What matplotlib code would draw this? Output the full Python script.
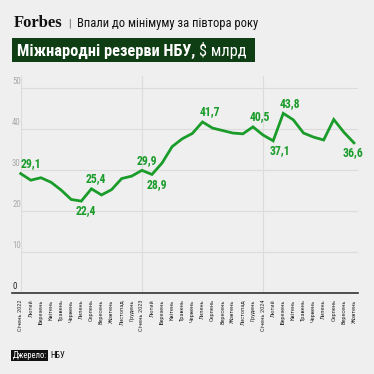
import matplotlib
matplotlib.use("Agg")
import matplotlib.pyplot as plt
from matplotlib import font_manager
from matplotlib.patches import Rectangle

names = {f.name for f in font_manager.fontManager.ttflist}
NARROW = next((n for n in ["Roboto Condensed", "Fira Sans Condensed", "Encode Sans Condensed"] if n in names), "DejaVu Sans")
SERIF = "Liberation Serif"

months = ["Січень 2022", "Лютий", "Березень", "Квітень", "Травень", "Червень", "Липень",
          "Серпень", "Вересень", "Жовтень", "Листопад", "Грудень",
          "Січень 2023", "Лютий", "Березень", "Квітень", "Травень", "Червень", "Липень",
          "Серпень", "Вересень", "Жовтень", "Листопад", "Грудень",
          "Січень 2024", "Лютий", "Березень", "Квітень", "Травень", "Червень", "Липень",
          "Серпень", "Вересень", "Жовтень"]
reserves = [29.1, 27.5, 28.1, 27.0, 25.1, 22.8, 22.4, 25.4, 23.9, 25.2, 27.9, 28.5,
            29.9, 28.9, 31.7, 35.7, 37.6, 38.9, 41.7, 40.2, 39.6, 39.0, 38.8, 40.5,
            38.5, 37.1, 43.8, 42.2, 39.0, 38.0, 37.3, 42.3, 39.2, 36.6]
yticks = [0, 10, 20, 30, 40, 50]
year_starts = [0, 12, 24]
# labelled points and where their labels sit
label_idx = [0, 6, 7, 12, 13, 18, 23, 25, 26, 33]
label_pos = ["above", "below", "above", "above", "below", "above", "above", "below", "above", "below"]
label_dx = [7.5, 3.5, 3.5, 3.5, 3.5, 5, 5, 5, 5, -1]

BG = "#efefef"
GREEN = "#1a9c2a"

fig = plt.figure(figsize=(3.74, 3.74), dpi=100, facecolor=BG)
ax = fig.add_axes([20.7 / 374, 1 - 293 / 374, (358 - 20.7) / 374, (293 - 76) / 374])
ax.set_facecolor(BG)

x = list(range(len(reserves)))
ax.plot(x, reserves, color=GREEN, lw=2.0, solid_joinstyle="miter", zorder=3, clip_on=False)

ax.set_xlim(0, 33.4)
ax.set_ylim(0, 52.9)

for v in yticks[1:]:
    ax.axhline(v, color="#dcdcdc", lw=0.8, zorder=1)
for xs in year_starts:
    ax.axvline(xs, color="#dcdcdc", lw=0.8, zorder=1)
ax.plot([-0.85, 33.4], [0, 0], color="#333333", lw=1.2, clip_on=False, zorder=2)

for s in ax.spines.values():
    s.set_visible(False)
ax.set_yticks([])
ax.set_xticks(x)
ax.set_xticklabels(months, rotation=90, fontsize=4.6, family=NARROW, color="#333333", va="top")
ax.tick_params(axis="x", length=0, pad=4.5)

for v in yticks:
    ax.text(-0.85, v + 0.4, str(v), fontsize=6.3, family=NARROW,
            color="#222222" if v == 0 else "#aaaaaa", ha="left", va="bottom", zorder=2)

for i, pos, dx in zip(label_idx, label_pos, label_dx):
    val = reserves[i]
    txt = f"{val:.1f}".replace(".", ",")
    dy = 2.5 if pos == "above" else -2.5
    ax.annotate(txt, (i, val), xytext=(dx, dy), textcoords="offset points",
                ha="center", va="bottom" if pos == "above" else "top",
                fontsize=8.5, fontweight="bold", family=NARROW, color=GREEN, zorder=4)

# header
fig.text(14 / 374, 1 - 27 / 374, "Forbes", family=SERIF, fontweight="bold", fontsize=12,
         color="#111111", ha="left", va="baseline")
fig.text(68 / 374, 1 - 26.5 / 374, "|", family=NARROW, fontsize=7, color="#555555",
         ha="left", va="baseline")
fig.text(77 / 374, 1 - 27 / 374, "Впали до мінімуму за півтора року", family=NARROW,
         fontsize=9, color="#111111", ha="left", va="baseline")

fig.patches.append(Rectangle((12 / 374, 1 - 62 / 374), (255 - 12) / 374, 24 / 374,
                             transform=fig.transFigure, facecolor="#0f3d14", edgecolor="none"))
t1 = fig.text(17 / 374, 1 - 56 / 374, "Міжнародні резерви НБУ, ", family=NARROW,
              fontweight="bold", fontsize=11.8, color="white", ha="left", va="baseline")
fig.canvas.draw()
bb = t1.get_window_extent()
fig.text(bb.x1 / fig.bbox.width, 1 - 56 / 374, "$ млрд", family=NARROW,
         fontweight="normal", fontsize=11.8, color="white", ha="left", va="baseline")

# footer
fig.patches.append(Rectangle((11 / 374, 1 - 361 / 374), 37 / 374, 11 / 374,
                             transform=fig.transFigure, facecolor="#111111", edgecolor="none"))
fig.text(12.5 / 374, 1 - 358.5 / 374, "Джерело:", family=NARROW, fontsize=6.2, color="white",
         ha="left", va="baseline")
fig.text(50 / 374, 1 - 358.5 / 374, "НБУ", family=NARROW, fontsize=6.2, color="#111111",
         ha="left", va="baseline")

fig.savefig("out.png", dpi=100, facecolor=BG)
